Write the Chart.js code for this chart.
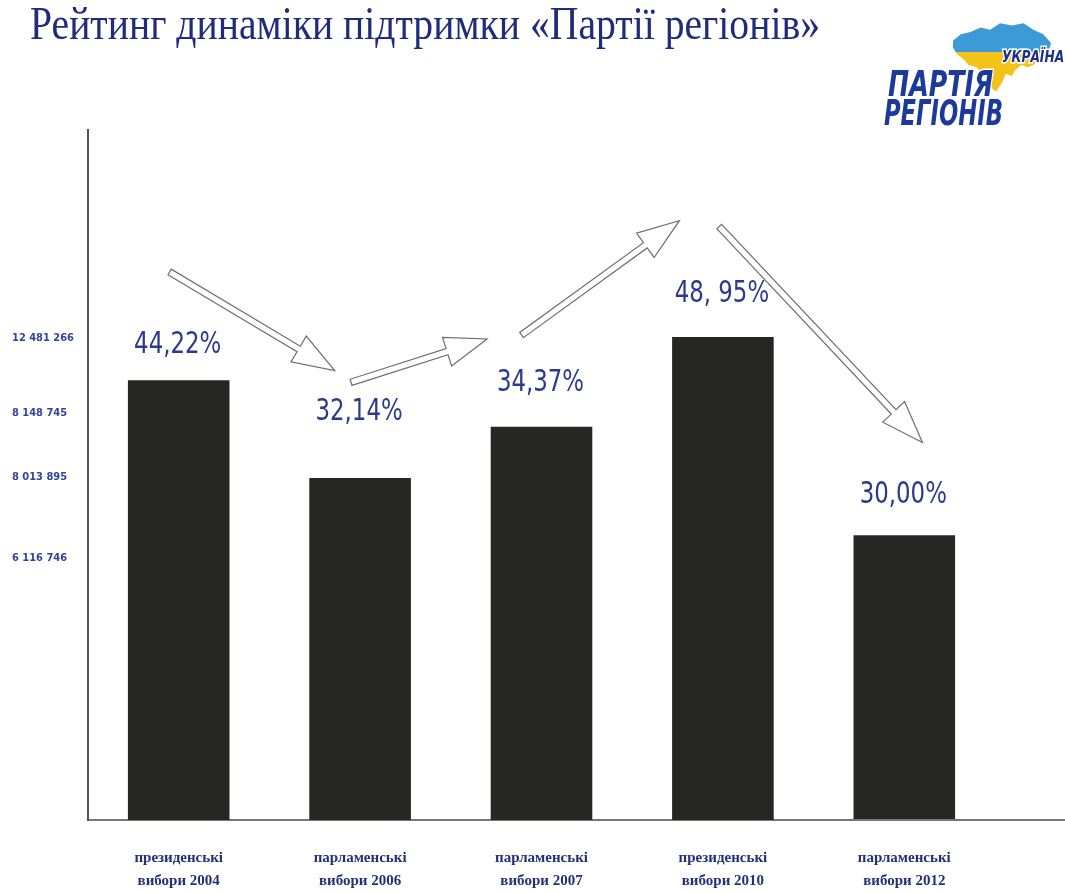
<!DOCTYPE html>
<html>
<head>
<meta charset="utf-8">
<script src="https://cdn.jsdelivr.net/npm/chart.js@4.4.1/dist/chart.umd.min.js"></script>
<style>
	body { margin: 0; background: #fff; }
</style>
</head>
<body>
<canvas id="chart" width="1065" height="893"></canvas>
<script>
	// data
	var categories = [
		['президенські', 'вибори 2004'],
		['парламенські', 'вибори 2006'],
		['парламенські', 'вибори 2007'],
		['президенські', 'вибори 2010'],
		['парламенські', 'вибори 2012']
	];
	// the bars in the picture are not drawn exactly to the printed shares,
	// so these are the bar tops as they stand, in the same percent units
	var barLevel = [44.6, 34.7, 39.9, 49.0, 28.9];
	var shareLabels = ['44,22%', '32,14%', '34,37%', '48, 95%', '30,00%'];
	var labelLevel = [48.2, 41.4, 44.3, 53.4, 33.0];
	var voteLabels = ['12 481 266', '8 148 745', '8 013 895', '6 116 746'];
	var voteLevel = [48.9, 41.3, 34.8, 26.6];

	// trend arrows: [category index, level] for tail and tip
	var arrows = [
		[[-0.05, 55.6], [0.86, 45.6]],
		[[0.95, 44.4], [1.70, 48.8]],
		[[1.89, 49.2], [2.76, 60.8]],
		[[2.98, 60.2], [4.10, 38.3]]
	];

	var blue = '#2b3a8e';

	// text drawn narrower than the font gives (no condensed faces here)
	function squeezed(ctx, text, x, y, k, outline) {
		ctx.save();
		ctx.translate(x, y);
		ctx.scale(k, 1);
		if (outline) ctx.strokeText(text, 0, 0);
		ctx.fillText(text, 0, 0);
		ctx.restore();
	}

	var extras = {
		id: 'extras',
		afterDraw: function(chart) {
			var ctx = chart.ctx;
			var xs = chart.scales.x, ys = chart.scales.y;
			var area = chart.chartArea;
			ctx.save();

			// rest of the base line
			ctx.strokeStyle = '#777';
			ctx.lineWidth = 2;
			ctx.beginPath();
			ctx.moveTo(area.right, area.bottom);
			ctx.lineTo(851, area.bottom);
			ctx.moveTo(856, area.bottom);
			ctx.lineTo(chart.width, area.bottom);
			ctx.stroke();

			// share labels
			ctx.fillStyle = blue;
			ctx.font = '31px "DejaVu Sans Condensed", "DejaVu Sans", sans-serif';
			ctx.textAlign = 'center';
			ctx.textBaseline = 'middle';
			for (var i = 0; i < shareLabels.length; i++) {
				squeezed(ctx, shareLabels[i], xs.getPixelForValue(i) - 1, ys.getPixelForValue(labelLevel[i]), 0.82);
			}

			// outline arrows
			ctx.strokeStyle = '#6e6e6e';
			ctx.lineWidth = 1.2;
			ctx.fillStyle = '#fff';
			arrows.forEach(function(a) {
				var tx = xs.getPixelForValue(a[0][0]), ty = ys.getPixelForValue(a[0][1]);
				var hx = xs.getPixelForValue(a[1][0]), hy = ys.getPixelForValue(a[1][1]);
				var len = Math.hypot(hx - tx, hy - ty);
				var dx = (hx - tx) / len, dy = (hy - ty) / len;
				var nx = -dy, ny = dx;
				var w = 3.2, hw = 15, hl = 42;
				var bx = hx - dx * hl, by = hy - dy * hl;
				ctx.beginPath();
				ctx.moveTo(tx + nx * w, ty + ny * w);
				ctx.lineTo(bx + nx * w, by + ny * w);
				ctx.lineTo(bx + nx * hw, by + ny * hw);
				ctx.lineTo(hx, hy);
				ctx.lineTo(bx - nx * hw, by - ny * hw);
				ctx.lineTo(bx - nx * w, by - ny * w);
				ctx.lineTo(tx - nx * w, ty - ny * w);
				ctx.closePath();
				ctx.fill();
				ctx.stroke();
			});

			// title, squeezed to the width it has in the picture
			var title = 'Рейтинг динаміки підтримки «Партії регіонів»';
			ctx.font = '46px "Liberation Serif", "DejaVu Serif", serif';
			ctx.textAlign = 'left';
			ctx.textBaseline = 'alphabetic';
			ctx.fillStyle = '#1f2c7c';
			var tw = ctx.measureText(title).width;
			squeezed(ctx, title, 30, 39, 790 / tw);

			// party logo
			var ox = 953, oy = 21, sx = 0.98, sy = 1.1;
			var map = [[0,18],[8,12],[18,10],[28,6],[38,8],[48,2],[60,4],[72,2],[82,8],[92,12],[100,20],[97,30],[88,34],[82,40],[76,42],[70,40],[64,44],[60,50],[54,48],[50,56],[44,64],[38,60],[41,50],[36,46],[30,48],[24,42],[16,40],[10,34],[4,30],[0,24]];
			ctx.save();
			ctx.beginPath();
			map.forEach(function(p, k) {
				var px = ox + p[0] * sx, py = oy + p[1] * sy;
				if (k === 0) ctx.moveTo(px, py); else ctx.lineTo(px, py);
			});
			ctx.closePath();
			ctx.clip();
			ctx.fillStyle = '#3c9ad6';
			ctx.fillRect(ox, oy, 102, 31);
			ctx.fillStyle = '#f3c317';
			ctx.fillRect(ox, oy + 31, 102, 50);
			ctx.restore();

			ctx.lineWidth = 3;
			ctx.strokeStyle = '#fff';
			ctx.fillStyle = '#1a2f8a';
			ctx.font = 'italic bold 16px "DejaVu Sans Condensed", "DejaVu Sans", sans-serif';
			squeezed(ctx, 'УКРАЇНА', 1002, 62, 0.85, true);

			ctx.font = 'italic bold 36px "DejaVu Sans Condensed", "DejaVu Sans", sans-serif';
			ctx.fillStyle = '#1b3a9a';
			squeezed(ctx, 'ПАРТІЯ', 888, 96, 0.78, true);
			squeezed(ctx, 'РЕГІОНІВ', 884, 125, 0.7);

			ctx.restore();
		}
	};

	var canvas = document.getElementById('chart').getContext('2d');
	window.bar = new Chart(canvas, {
		type: 'bar',
		data: {
			labels: categories,
			datasets: [{
				data: barLevel,
				backgroundColor: '#262622',
				categoryPercentage: 1,
				barPercentage: 0.56
			}]
		},
		options: {
			responsive: false,
			animation: false,
			layout: { padding: { top: 130, left: 12, right: 70, bottom: 0 } },
			plugins: {
				legend: { display: false },
				tooltip: { enabled: false },
				title: { display: false }
			},
			scales: {
				x: {
					grid: { display: false },
					border: { display: true, color: '#777', width: 2 },
					ticks: {
						color: '#22307a',
						padding: 19,
						font: { family: '"Liberation Serif", "DejaVu Serif", serif', size: 15, weight: 'bold', lineHeight: 1.5 }
					},
					afterFit: function(scale) { scale.height = 73; }
				},
				y: {
					min: 0,
					max: 70,
					grid: { display: false },
					border: { display: true, color: '#555', width: 2 },
					afterBuildTicks: function(scale) {
						scale.ticks = voteLevel.map(function(v) { return { value: v }; });
					},
					ticks: {
						color: '#34449a',
						crossAlign: 'far',
						autoSkip: false,
						font: { family: '"DejaVu Sans Condensed", "DejaVu Sans", sans-serif', size: 11, weight: 'bold' },
						callback: function(value, index) { return voteLabels[index]; }
					},
					afterFit: function(scale) { scale.width = 76; }
				}
			}
		},
		plugins: [extras]
	});
</script>
</body>
</html>
